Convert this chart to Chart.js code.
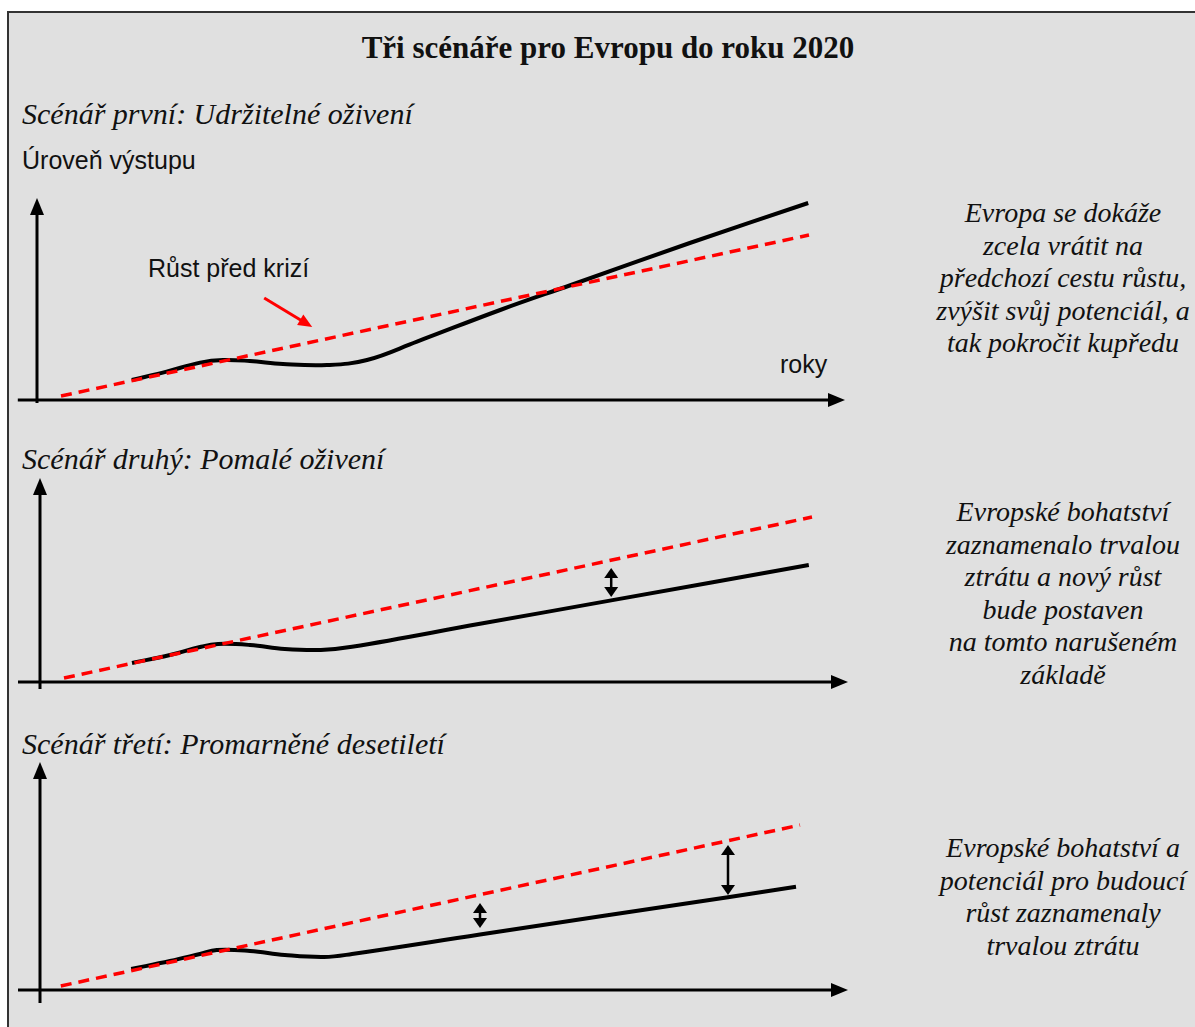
<!DOCTYPE html>
<html>
<head>
<meta charset="utf-8">
<script src="https://cdn.jsdelivr.net/npm/chart.js@4/dist/chart.umd.min.js"></script>
<style>
  body { margin: 0; background: #fff; width: 1195px; height: 1027px; overflow: hidden; position: relative; }
  #frame { position: absolute; left: 7px; top: 11px; width: 1200px; height: 1030px; background: #e0e0e0;
           border-top: 2px solid #333; border-left: 2px solid #333; }
  .t { position: absolute; color: #111; white-space: nowrap; line-height: 1; }
  .serif { font-family: "Liberation Serif", "Times New Roman", serif; }
  .it { font-style: italic; }
  .sans { font-family: "Liberation Sans", Arial, sans-serif; font-size: 25px; }
  .scen { font-size: 30px; left: 22px; }
  .desc { font-family: "Liberation Serif", serif; font-style: italic; font-size: 28px; line-height: 32.6px;
          text-align: center; position: absolute; width: 300px; left: 913px; color: #111; white-space: nowrap; }
  canvas { position: absolute; }
</style>
</head>
<body>
<div id="frame"></div>

<div class="t serif" style="left:0;width:1216px;text-align:center;top:32px;font-size:31px;font-weight:bold;">Tři scénáře pro Evropu do roku 2020</div>

<div class="t serif it scen" style="top:99px;">Scénář první: Udržitelné oživení</div>
<div class="t sans" style="left:22px;top:148px;">Úroveň výstupu</div>
<div class="t sans" style="left:148px;top:256px;">Růst před krizí</div>
<div class="t sans" style="left:780px;top:352px;">roky</div>
<div class="desc" style="top:197px;">Evropa se dokáže<br>zcela vrátit na<br>předchozí cestu růstu,<br>zvýšit svůj potenciál, a<br>tak pokročit kupředu</div>

<div class="t serif it scen" style="top:444px;">Scénář druhý: Pomalé oživení</div>
<div class="desc" style="top:496px;">Evropské bohatství<br>zaznamenalo trvalou<br>ztrátu a nový růst<br>bude postaven<br>na tomto narušeném<br>základě</div>

<div class="t serif it scen" style="top:729px;">Scénář třetí: Promarněné desetiletí</div>
<div class="desc" style="top:832px;">Evropské bohatství a<br>potenciál pro budoucí<br>růst zaznamenaly<br>trvalou ztrátu</div>

<canvas id="c1" width="880" height="240" style="left:5px;top:180px;"></canvas>
<canvas id="c2" width="880" height="240" style="left:8px;top:462px;"></canvas>
<canvas id="c3" width="880" height="260" style="left:8px;top:750px;"></canvas>

<script>
// pre-crisis trend (same in every scenario)
var trendX = [3, 96.5];
var trendY = [2, 82.5];
var trendX3 = [2.6, 95];

// scenario 1: sustainable recovery
var years1 = [11.85, 16.2, 20.4, 23.25, 26.6, 30.75, 36.25, 41.25, 47.5, 57.9, 66.75, 81.6, 96.4];
var output1 = [10, 14.2, 18.7, 20, 19.5, 18, 17.5, 20, 29.2, 45, 57.5, 78.5, 98.5];

// scenario 2: slow recovery
var years2 = [11.5, 16.25, 20, 22.25, 26.25, 30.6, 35.1, 39, 55, 71.4, 96.1];
var output2 = [9.5, 13.5, 17.5, 19, 18.5, 16.5, 16, 17.6, 29.1, 40.8, 58.5];

// scenario 3: lost decade
var years3 = [11.4, 16.25, 20, 22.1, 26.25, 30.6, 35.5, 39, 55, 86, 94.5];
var output3 = [10.5, 14.5, 18, 20, 19.5, 17.5, 16.5, 18, 27.75, 46.4, 51.6];

// gap markers (x, from, to)
var gap2 = [[71.4, 57, 42.5]];
var gap3 = [[55, 43.5, 31], [86, 72.5, 47.5]];

function pts(xs, ys) {
  return xs.map(function (x, i) { return { x: x, y: ys[i] }; });
}

function head(ctx, x1, y1, x2, y2, len, wid) {
  var a = Math.atan2(y2 - y1, x2 - x1);
  ctx.beginPath();
  ctx.moveTo(x2, y2);
  ctx.lineTo(x2 - len * Math.cos(a) + wid / 2 * Math.sin(a), y2 - len * Math.sin(a) - wid / 2 * Math.cos(a));
  ctx.lineTo(x2 - len * Math.cos(a) - wid / 2 * Math.sin(a), y2 - len * Math.sin(a) + wid / 2 * Math.cos(a));
  ctx.closePath();
  ctx.fill();
}

// draws the axes arrows, gap arrows and the red pointer
var arrows = {
  id: 'arrows',
  afterDatasetsDraw: function (chart, args, o) {
    var ctx = chart.ctx, xs = chart.scales.x, ys = chart.scales.y;
    ctx.save();
    ctx.strokeStyle = '#000';
    ctx.fillStyle = '#000';
    ctx.lineWidth = 3;
    // y axis
    var ax = xs.getPixelForValue(0);
    var yb = ys.getPixelForValue(o.yAxis[0]), yt = ys.getPixelForValue(o.yAxis[1]);
    ctx.beginPath(); ctx.moveTo(ax, yb); ctx.lineTo(ax, yt + 12); ctx.stroke();
    head(ctx, ax, yb, ax, yt, 17, 14);
    // x axis
    var ay = ys.getPixelForValue(0);
    var xl = xs.getPixelForValue(o.xAxis[0]), xr = xs.getPixelForValue(o.xAxis[1]);
    ctx.beginPath(); ctx.moveTo(xl, ay); ctx.lineTo(xr - 12, ay); ctx.stroke();
    head(ctx, xl, ay, xr, ay, 17, 14);
    // gaps
    ctx.lineWidth = 2.5;
    (o.gaps || []).forEach(function (g) {
      var gx = xs.getPixelForValue(g[0]);
      var g1 = ys.getPixelForValue(g[1]), g2 = ys.getPixelForValue(g[2]);
      ctx.beginPath(); ctx.moveTo(gx, g1 + 7); ctx.lineTo(gx, g2 - 7); ctx.stroke();
      head(ctx, gx, g2, gx, g1, 10, 14);
      head(ctx, gx, g1, gx, g2, 10, 14);
    });
    // red pointer
    if (o.pointer) {
      var p = o.pointer;
      var px1 = xs.getPixelForValue(p[0]), py1 = ys.getPixelForValue(p[1]);
      var px2 = xs.getPixelForValue(p[2]), py2 = ys.getPixelForValue(p[3]);
      ctx.strokeStyle = '#ff0000'; ctx.fillStyle = '#ff0000'; ctx.lineWidth = 3;
      ctx.beginPath(); ctx.moveTo(px1, py1); ctx.lineTo(px2 - (px2 - px1) * 0.2, py2 - (py2 - py1) * 0.2); ctx.stroke();
      head(ctx, px1, py1, px2, py2, 14, 12);
    }
    ctx.restore();
  }
};

function makeChart(id, tx, curveX, curveY, ymax, extra) {
  return new Chart(document.getElementById(id), {
    type: 'line',
    data: {
      datasets: [
        {
          data: pts(tx, trendY),
          borderColor: '#ff0000',
          borderWidth: 3.5,
          borderDash: [11, 7],
          pointRadius: 0,
          tension: 0
        },
        {
          data: pts(curveX, curveY),
          borderColor: '#000',
          borderWidth: 4,
          pointRadius: 0,
          tension: 0.4
        }
      ]
    },
    options: {
      responsive: false,
      animation: false,
      devicePixelRatio: 1,
      layout: { padding: 0 },
      scales: {
        x: { type: 'linear', min: -4, max: 106, display: false },
        y: { type: 'linear', min: -10, max: ymax, display: false }
      },
      plugins: {
        legend: { display: false },
        tooltip: { enabled: false },
        arrows: extra
      }
    },
    plugins: [arrows]
  });
}

makeChart('c1', trendX, years1, output1, 110,
  { yAxis: [-1.5, 101], xAxis: [-2.4, 101], pointer: [28.4, 51, 34.4, 36.5] });
makeChart('c2', trendX, years2, output2, 110,
  { yAxis: [-3.5, 102], xAxis: [-2.75, 101], gaps: gap2 });
makeChart('c3', trendX3, years3, output3, 120,
  { yAxis: [-6.5, 114], xAxis: [-2.75, 101], gaps: gap3 });
</script>
</body>
</html>
